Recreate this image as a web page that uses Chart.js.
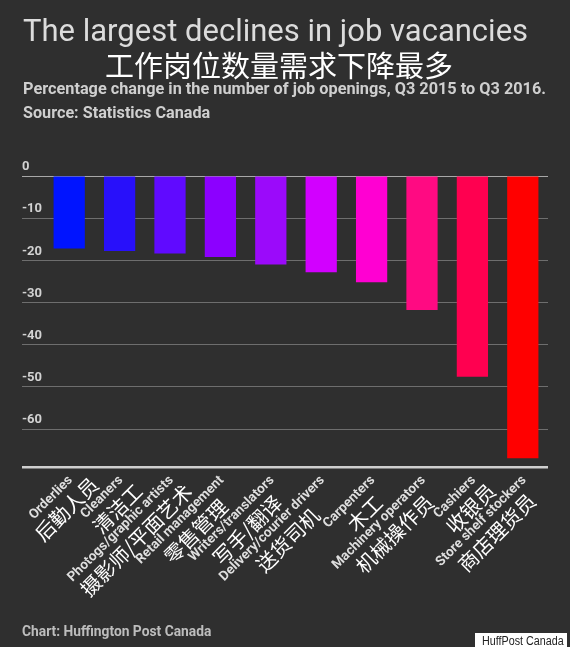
<!DOCTYPE html>
<html>
<head>
<meta charset="utf-8">
<script src="https://cdn.jsdelivr.net/npm/chart.js@4.4.0/dist/chart.umd.min.js"></script>
<style>
  html, body { margin: 0; padding: 0; background: #2f2f2f; }
  body { width: 570px; height: 647px; position: relative; overflow: hidden; font-family: Roboto, "Noto Sans CJK SC", sans-serif; }
  #chart { position: absolute; left: 0; top: 0; }
  .t { position: absolute; white-space: nowrap; line-height: 1; }
  #title { left: 23px; top: 15px; font-size: 31px; color: #dcdcdc; }
  #title-zh { left: 105px; top: 50px; font-size: 29px; color: #fff; font-family: "Noto Sans CJK SC", sans-serif; }
  #sub { left: 23px; top: 81px; font-size: 16.3px; font-weight: bold; color: #cfcfcf; }
  #src { left: 23px; top: 105px; font-size: 16.2px; font-weight: bold; color: #cfcfcf; }
  #foot { left: 22px; top: 625px; font-size: 13.8px; font-weight: bold; color: #bdbdbd; }
  #wm { left: 475px; top: 633px; width: 92px; height: 14px; background: #fff; color: #222; }
  #wm span { position: absolute; left: 7px; top: 1px; font: 12.5px "Liberation Sans", sans-serif; transform: scaleX(0.86); transform-origin: left top; }
</style>
</head>
<body>
<canvas id="chart" width="570" height="647"></canvas>
<div class="t" id="title">The largest declines in job vacancies</div>
<div class="t" id="title-zh">工作岗位数量需求下降最多</div>
<div class="t" id="sub">Percentage change in the number of job openings, Q3 2015 to Q3 2016.</div>
<div class="t" id="src">Source: Statistics Canada</div>
<div class="t" id="foot">Chart: Huffington Post Canada</div>
<div class="t" id="wm"><span>HuffPost Canada</span></div>
<script>
const categories = ['Orderlies', 'Cleaners', 'Photogs/graphic artists', 'Retail management', 'Writers/translators',
  'Delivery/courier drivers', 'Carpenters', 'Machinery operators', 'Cashiers', 'Store shelf stockers'];
const categoriesZh = ['后勤人员', '清洁工', '摄影师/平面艺术', '零售管理', '写手/翻译',
  '送货司机', '木工', '机械操作员', '收银员', '商店理货员'];
const changes = [-17.2, -17.8, -18.4, -19.2, -21.0, -22.8, -25.2, -31.8, -47.6, -66.9];
const barColors = ['#0014ff', '#2810fa', '#600aff', '#8c00ff', '#9b0afa',
  '#d200ff', '#ff00d2', '#ff0a82', '#ff0050', '#ff0000'];
const yTicks = [0, -10, -20, -30, -40, -50, -60];
const yMin = -69;

// two-line rotated category labels (english + chinese)
const catLabels = {
  id: 'catLabels',
  afterDraw(chart) {
    const {ctx, chartArea, scales: {x}} = chart;
    ctx.save();
    ctx.textBaseline = 'middle';
    categories.forEach((en, i) => {
      const px = x.getPixelForValue(i);
      ctx.save();
      ctx.translate(px, chartArea.bottom);
      ctx.rotate(-Math.PI / 4);
      ctx.font = 'bold 13.5px Roboto';
      ctx.fillStyle = '#dedede';
      ctx.textAlign = 'right';
      const w = ctx.measureText(en).width;
      ctx.fillText(en, -7, 9);
      ctx.font = '20px "Noto Sans CJK SC"';
      ctx.fillStyle = '#ffffff';
      ctx.textAlign = 'center';
      ctx.fillText(categoriesZh[i], -7 - w / 2 + 3, 28);
      ctx.restore();
    });
    ctx.restore();
  }
};

const config = {
  type: 'bar',
  data: {
    labels: categories,
    datasets: [{
      data: changes,
      backgroundColor: barColors,
      barPercentage: 0.62,
      categoryPercentage: 1
    }]
  },
  options: {
    responsive: false,
    animation: false,
    layout: {padding: {left: 22, right: 22, top: 176, bottom: 172}},
    plugins: {legend: {display: false}, tooltip: {enabled: false}},
    scales: {
      x: {
        ticks: {display: false},
        grid: {display: false},
        border: {display: false}
      },
      y: {
        min: yMin,
        max: 0,
        afterBuildTicks(scale) {
          scale.ticks = yTicks.map(v => ({value: v})).concat([{value: yMin}]);
        },
        afterFit(scale) {
          scale.width = 22;
        },
        ticks: {
          crossAlign: 'far',
          labelOffset: -9,
          color: '#d2d2d2',
          font: {family: 'Roboto', weight: 'bold', size: 13},
          callback: (v) => yTicks.includes(v) ? String(v) : ''
        },
        grid: {
          color: c => c.tick.value === yMin ? '#cfcfcf' : (c.tick.value === 0 ? '#a8a8a8' : '#6e6e6e'),
          lineWidth: c => c.tick.value === yMin ? 2.5 : 1,
          tickLength: 22,
          drawTicks: true
        },
        border: {display: false}
      }
    }
  },
  plugins: [catLabels]
};

const myChart = new Chart(document.getElementById('chart'), config);
</script>
</body>
</html>
